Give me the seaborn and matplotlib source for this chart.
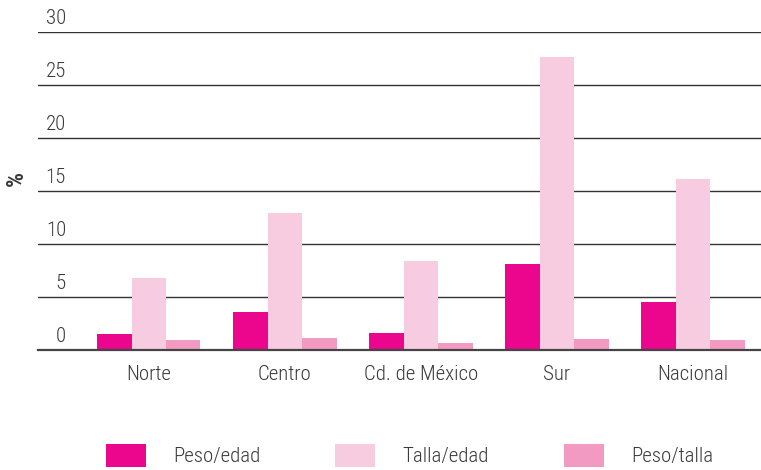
import matplotlib
matplotlib.use("Agg")
import matplotlib.pyplot as plt
import matplotlib.transforms as mtransforms
import seaborn as sns
import pandas as pd

regions = ["Norte", "Centro", "Cd. de México", "Sur", "Nacional"]
indicators = ["Peso/edad", "Talla/edad", "Peso/talla"]
peso_edad = [1.5, 3.6, 1.65, 8.15, 4.5]
talla_edad = [6.75, 12.9, 8.35, 27.6, 16.1]
peso_talla = [0.9, 1.15, 0.7, 1.07, 0.97]
yticks = [0, 5, 10, 15, 20, 25, 30]
colors = ["#EC068D", "#F7CBE0", "#F39AC3"]

rows = []
for ind, vals in zip(indicators, [peso_edad, talla_edad, peso_talla]):
    for r, v in zip(regions, vals):
        rows.append({"region": r, "indicador": ind, "valor": v})
df = pd.DataFrame(rows)

sns.set_theme(style="white")
plt.rcParams["font.family"] = ["Roboto Condensed", "Liberation Sans", "DejaVu Sans"]
plt.rcParams["font.weight"] = 300
txt = "#3a3a3a"

fig = plt.figure(figsize=(7.61, 4.70), dpi=100)
ax = fig.add_axes([38 / 761, 1 - 350 / 470, 1 - 38 / 761, (350 - 31.5) / 470])

sns.barplot(data=df, x="region", y="valor", hue="indicador", order=regions,
            hue_order=indicators, palette=colors, saturation=1, width=0.76,
            gap=0, linewidth=0, edgecolor="none", ax=ax)

handles, labels = ax.get_legend_handles_labels()
if ax.get_legend() is not None:
    ax.get_legend().remove()

ax.set_ylim(0, 30.05)
ax.set_xlim(-0.814, 4.459)
ax.set_axisbelow(True)
ax.set_yticks(yticks)
ax.set_yticklabels([str(t) for t in yticks])
ax.yaxis.grid(True, color="#333333", linewidth=1.0)
ax.xaxis.grid(False)
for s in ["top", "right", "left"]:
    ax.spines[s].set_visible(False)
ax.spines["bottom"].set_color("#444444")
ax.spines["bottom"].set_linewidth(1.6)

ax.tick_params(axis="y", length=0, pad=0, labelsize=15, labelcolor=txt)
ax.tick_params(axis="x", which="major", length=0, pad=11, labelsize=15, labelcolor=txt)
ax.set_xticks([i - 0.5 for i in range(len(regions) + 1)], minor=True)
ax.tick_params(axis="x", which="minor", length=7, width=1.2, color="#444444", direction="out")

offset = mtransforms.ScaledTranslation(0.28, 0.155, fig.dpi_scale_trans)
for lab in ax.get_yticklabels():
    lab.set_transform(lab.get_transform() + offset)

ax.set_xlabel("")
ax.set_ylabel("%", fontsize=17, color=txt, fontweight="bold")
ax.yaxis.set_label_coords(-0.0138, 0.54)

leg = fig.legend(handles, labels, loc="center left", ncol=3,
                 bbox_to_anchor=(106 / 761, 1 - 455.5 / 470), frameon=False,
                 fontsize=15, handlelength=1.92, handleheight=1.3,
                 handletextpad=1.3, columnspacing=3.6, borderpad=0,
                 borderaxespad=0)
for t in leg.get_texts():
    t.set_color(txt)

fig.savefig("out.png", dpi=100)
